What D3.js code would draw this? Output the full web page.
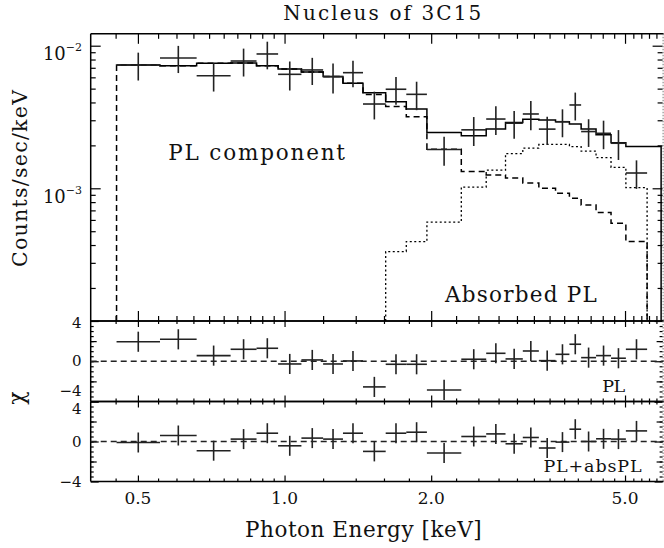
<!DOCTYPE html>
<html>
<head>
<meta charset="utf-8">
<script src="https://cdn.jsdelivr.net/npm/d3@7.9.0/dist/d3.min.js"></script>
<style>
  body { margin: 0; background: #fff; }
  svg { display: block; }
  text { font-family: "DejaVu Serif", serif; fill: #111; }
</style>
</head>
<body>
<svg id="chart" width="664" height="548"></svg>
<script>
// energy bin edges (keV), 24 bins
const binEdges = [0.452, 0.555, 0.660, 0.775, 0.876, 0.970, 1.083, 1.200, 1.318, 1.449, 1.613, 1.778,
  1.96, 2.306, 2.594, 2.842, 3.084, 3.327, 3.60, 3.844, 4.063, 4.36, 4.68, 5.02, 5.55];
const totalModelEnd = 5.93;

// counts/sec/keV (x 1e-3)
const counts = [7.32, 8.20, 6.16, 7.81, 8.75, 6.30, 6.76, 6.06, 6.47, 3.90, 4.95, 4.56,
  1.87, 2.57, 3.06, 2.86, 3.32, 2.60, 2.93, 3.84, 2.50, 2.43, 2.07, 1.28];
const countErr = [1.62, 1.77, 1.39, 1.73, 1.92, 1.45, 1.46, 1.44, 1.36, 0.86, 1.09, 1.03,
  0.43, 0.59, 0.70, 0.63, 0.77, 0.58, 0.65, 0.85, 0.55, 0.55, 0.49, 0.29];

// models (x 1e-3)
const totalModel = [7.32, 7.24, 7.53, 7.56, 7.24, 6.87, 6.54, 6.08, 5.45, 4.68, 4.05, 3.60,
  2.46, 2.34, 2.60, 2.89, 3.05, 3.01, 2.93, 2.83, 2.61, 2.37, 2.09, 1.96];
const plModel = [7.32, 7.24, 7.53, 7.56, 7.24, 6.87, 6.54, 6.08, 5.45, 4.55, 3.74, 3.18,
  1.88, 1.31, 1.24, 1.18, 1.09, 1.00, 0.924, 0.852, 0.765, 0.676, 0.569, 0.423];
const absModel = [null, null, null, null, null, null, null, null, null, null, 0.360, 0.423,
  0.580, 1.02, 1.34, 1.75, 1.91, 2.03, 2.03, 1.96, 1.82, 1.64, 1.40, 1.01];

// residuals (chi)
const chiPL = [1.94, 2.18, 0.56, 1.19, 1.29, -0.27, 0.13, -0.27, 0.03, -2.55, -0.30, -0.30,
  -2.85, 0.20, 0.79, 0.23, 1.02, 0.06, 0.69, 1.69, 0.36, 0.56, 0.30, 1.19];
const chiBoth = [-0.10, 0.60, -0.92, 0.24, 0.83, -0.43, 0.34, 0.24, 0.83, -0.99, 0.83, 0.93,
  -1.15, 0.50, 0.76, -0.23, 0.40, -0.65, -0.06, 1.23, 0.00, 0.27, 0.24, 1.06];

// ticks
const xMajor = [0.5, 1, 2, 5];
const xMajorLabels = ["0.5", "1.0", "2.0", "5.0"];
const xMinor = [0.45, 0.55, 0.6, 0.65, 0.7, 0.75, 0.8, 0.85, 0.9, 0.95, 1.2, 1.4, 1.6, 1.8,
  2.25, 2.5, 2.75, 3, 3.25, 3.5, 3.75, 4, 4.25, 4.5, 4.75, 5.2, 5.4, 5.6, 5.8];
const yMajor = [1e-3, 1e-2];
const yMajorExp = ["\u22123", "\u22122"];
const chiMajor = [-4, 0, 4];
const chiMajorLabels = ["\u22124", "0", "4"];
const chiMid = [-2, 2];

const svg = d3.select("#chart");
const left = 90.7, right = 663.6;
const top0 = 33.8, bot0 = 321, bot1 = 401.5, bot2 = 481.5;

const x = d3.scaleLog().domain([0.4, 6]).range([left, right]);
const y = d3.scaleLog().domain([1.173e-4, 1.212e-2]).range([bot0, top0]);
const chiY = [
  d3.scaleLinear().domain([-4, 4]).range([bot1, bot0]),
  d3.scaleLinear().domain([-4, 4]).range([bot2, bot1])
];

function tickAxis(axisFn, scale, values, size, tx, ty) {
  svg.append("g")
    .attr("transform", `translate(${tx},${ty})`)
    .call(axisFn(scale).tickValues(values).tickSize(size).tickFormat(""))
    .call(g => g.select(".domain").remove())
    .call(g => g.selectAll("line").attr("stroke", "#000").attr("stroke-width", 1.2));
}

function frame(yt, yb) {
  const g = svg.append("g").attr("stroke", "#000").attr("stroke-width", 1.5).attr("fill", "none");
  g.append("line").attr("x1", left).attr("x2", right).attr("y1", yt).attr("y2", yt);
  g.append("line").attr("x1", left).attr("x2", right).attr("y1", yb).attr("y2", yb);
  g.append("line").attr("x1", left).attr("x2", left).attr("y1", yt).attr("y2", yb);
  g.append("line").attr("x1", right - 0.5).attr("x2", right - 0.5).attr("y1", yt).attr("y2", yb)
    .attr("stroke", "#777").attr("stroke-width", 1).attr("stroke-dasharray", "1.5,1.5");
}

// ---- top panel ----
const yMinor = y.ticks().filter(v => !yMajor.some(m => Math.abs(m - v) < 1e-9));
tickAxis(d3.axisBottom, x, xMajor, -10, 0, bot0);
tickAxis(d3.axisBottom, x, xMinor, -5, 0, bot0);
tickAxis(d3.axisTop, x, xMajor, -10, 0, top0);
tickAxis(d3.axisTop, x, xMinor, -5, 0, top0);
tickAxis(d3.axisLeft, y, yMajor, -10, left, 0);
tickAxis(d3.axisLeft, y, yMinor, -5, left, 0);
tickAxis(d3.axisRight, y, yMajor, -10, right - 1, 0);
tickAxis(d3.axisRight, y, yMinor, -5, right - 1, 0);
frame(top0, bot0);

const fluxBase = y.domain()[0];
const n = counts.length;

function stepPoints(edges, vals, rise, fall) {
  const pts = [];
  const first = vals.findIndex(v => v != null);
  if (rise) pts.push([edges[first], fluxBase]);
  for (let i = first; i < vals.length; i++) pts.push([edges[i], vals[i] * 1e-3]);
  pts.push([edges[vals.length], vals[vals.length - 1] * 1e-3]);
  if (fall) pts.push([edges[vals.length], fluxBase]);
  return pts;
}
const stepLine = d3.line().x(d => x(d[0])).y(d => y(d[1])).curve(d3.curveStepAfter);
const totalEdges = binEdges.slice(0, -1).concat([totalModelEnd]);

const models = svg.append("g").attr("fill", "none").attr("stroke", "#000").attr("stroke-width", 1.5);
models.append("path").attr("d", stepLine(stepPoints(totalEdges, totalModel, false, true)));
models.append("path").attr("d", stepLine(stepPoints(binEdges, plModel, true, true)))
  .attr("stroke-dasharray", "6,4");
models.append("path").attr("d", stepLine(stepPoints(binEdges, absModel, true, true)))
  .attr("stroke-width", 1.3).attr("stroke-dasharray", "2,2.5");

function crosses(g, ys, vals, errs) {
  d3.range(n).forEach(i => {
    const e0 = binEdges[i], e1 = binEdges[i + 1], em = Math.sqrt(e0 * e1);
    g.append("line").attr("x1", x(e0)).attr("x2", x(e1))
      .attr("y1", ys(vals[i])).attr("y2", ys(vals[i]));
    g.append("line").attr("x1", x(em)).attr("x2", x(em))
      .attr("y1", ys(vals[i] - errs[i])).attr("y2", ys(vals[i] + errs[i]));
  });
}
const dataG = svg.append("g").attr("stroke", "#222").attr("stroke-width", 1.6);
crosses(dataG, v => y(v * 1e-3), counts, countErr);

// y tick labels
yMajor.forEach((v, i) => {
  const t = svg.append("text").attr("x", 82).attr("y", y(v) + 14.5)
    .attr("text-anchor", "end").attr("font-size", 18).text("10");
  t.append("tspan").attr("dy", -9).attr("font-size", 11).text(yMajorExp[i]);
});

svg.append("text").attr("x", 168.3).attr("y", 159.5).attr("font-size", 21.5)
  .attr("textLength", 176.7).attr("lengthAdjust", "spacing").text("PL component");
svg.append("text").attr("x", 445).attr("y", 301.5).attr("font-size", 21.5)
  .attr("textLength", 151.7).attr("lengthAdjust", "spacing").text("Absorbed PL");

// ---- residual panels ----
// vertical nudges of the -4 / 0 / 4 labels so neighbouring panels don't collide
const chiShift = [[-11, 0, 2], [0, 0, 7]];
[chiPL, chiBoth].forEach((chi, p) => {
  const cy = chiY[p];
  const yt = cy.range()[1], yb = cy.range()[0];
  tickAxis(d3.axisBottom, x, xMajor, -6, 0, yb);
  tickAxis(d3.axisBottom, x, xMinor, -3, 0, yb);
  tickAxis(d3.axisTop, x, xMajor, -6, 0, yt);
  tickAxis(d3.axisTop, x, xMinor, -3, 0, yt);
  tickAxis(d3.axisLeft, cy, chiMajor, -8, left, 0);
  tickAxis(d3.axisLeft, cy, chiMid, -6, left, 0);
  tickAxis(d3.axisLeft, cy, d3.range(-3.5, 4, 0.5), -3, left, 0);
  tickAxis(d3.axisRight, cy, chiMajor, -8, right - 1, 0);
  tickAxis(d3.axisRight, cy, chiMid, -6, right - 1, 0);
  tickAxis(d3.axisRight, cy, d3.range(-3.5, 4, 0.5), -3, right - 1, 0);
  frame(yt, yb);

  svg.append("line").attr("x1", left).attr("x2", right).attr("y1", cy(0)).attr("y2", cy(0))
    .attr("stroke", "#222").attr("stroke-width", 1.3).attr("stroke-dasharray", "6,4");

  const g = svg.append("g").attr("stroke", "#222").attr("stroke-width", 1.6);
  crosses(g, cy, chi, chi.map(() => 1));

  chiMajor.forEach((v, i) => {
    svg.append("text").attr("x", 81.5).attr("y", cy(v) + chiShift[p][i] + 5.2)
      .attr("text-anchor", "end").attr("font-size", 15).text(chiMajorLabels[i]);
  });
});

svg.append("text").attr("x", 602.3).attr("y", 392.3).attr("font-size", 17.5)
  .attr("textLength", 22.7).attr("lengthAdjust", "spacing").text("PL");
svg.append("text").attr("x", 543.5).attr("y", 471.5).attr("font-size", 17.5)
  .attr("textLength", 98).attr("lengthAdjust", "spacing").text("PL+absPL");

// x tick labels
xMajor.forEach((v, i) => {
  svg.append("text").attr("x", x(v)).attr("y", 503.5).attr("text-anchor", "middle")
    .attr("font-size", 17).text(xMajorLabels[i]);
});

// titles
svg.append("text").attr("x", 283.3).attr("y", 20).attr("font-size", 20)
  .attr("textLength", 198).attr("lengthAdjust", "spacing").text("Nucleus of 3C15");
svg.append("text").attr("x", 245).attr("y", 537).attr("font-size", 21.5)
  .attr("textLength", 236.7).attr("lengthAdjust", "spacing").text("Photon Energy [keV]");
svg.append("text").attr("transform", "translate(26.5,267) rotate(-90)").attr("font-size", 20.5)
  .attr("textLength", 177).attr("lengthAdjust", "spacing").text("Counts/sec/keV");
svg.append("text").attr("transform", "translate(24,398) rotate(-90)").attr("font-size", 22)
  .attr("text-anchor", "middle").text("\u03c7");
</script>
</body>
</html>
